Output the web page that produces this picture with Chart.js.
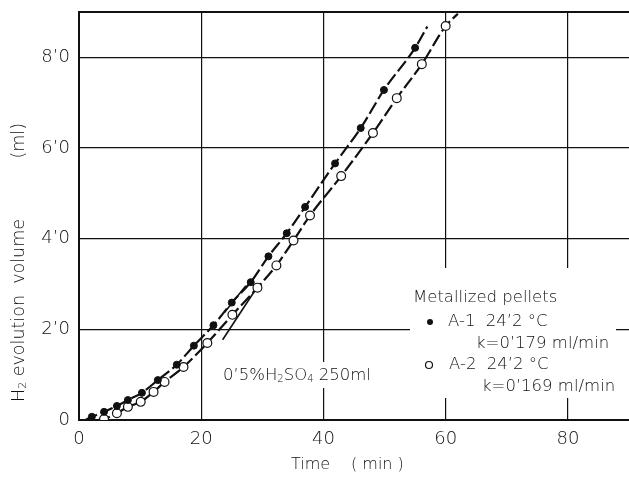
<!DOCTYPE html>
<html>
<head>
<meta charset="utf-8">
<script src="https://cdn.jsdelivr.net/npm/chart.js@4.4.1/dist/chart.umd.min.js"></script>
<style>
  html, body { margin: 0; padding: 0; background: #fff; }
  #wrap { width: 629px; height: 477px; }
</style>
</head>
<body>
<div id="wrap"><canvas id="chart" width="629" height="477"></canvas></div>
<script>
// A-1 (filled dots) and A-2 (open circles)
const a1Time = [2.1, 4.1, 6.2, 8.0, 10.3, 12.9, 16.0, 18.8, 22.0, 25.0, 28.1, 31.0, 34.0, 37.0, 41.9, 46.1, 49.9, 55.0];
const a1Vol  = [0.7, 1.8, 3.1, 4.4, 6.0, 8.8, 12.2, 16.4, 20.9, 25.9, 30.4, 36.1, 41.2, 47.0, 56.6, 64.4, 72.8, 82.1];
const a2Time = [4.1, 6.2, 8.0, 10.1, 12.2, 14.0, 17.1, 21.0, 25.1, 29.2, 32.3, 35.1, 37.8, 42.9, 48.1, 52.0, 56.1, 60.0];
const a2Vol  = [0.2, 1.5, 2.9, 4.0, 6.2, 8.4, 11.7, 17.0, 23.2, 29.2, 34.1, 39.6, 45.1, 53.8, 63.3, 71.0, 78.5, 86.9];

// where the dashed curves start and stop
const a1CurveStart = [1.0, 0.0], a1CurveEnd = [57.0, 86.8];
const a2CurveStart = [3.0, 0.0], a2CurveEnd = [62.0, 89.6];

// short straight (linear part) lines
const tan1Time = [23.8, 27.3], tan1Vol = [23.7, 29.6];
const tan2Time = [23.5, 28.9], tan2Vol = [17.7, 28.8];

const xTicks = [0, 20, 40, 60, 80];
const xTickLabels = ['0', '20', '40', '60', '80'];
const yTicks = [0, 20, 40, 60, 80];
const yTickLabels = ['0', '2\u20190', '4\u20190', '6\u20190', '8\u20190'];

const FONT = '"DejaVu Sans", sans-serif';
const INK = '#111';

function pts(xs, ys) {
  return xs.map((x, i) => ({x: x, y: ys[i]}));
}
function curve(start, xs, ys, end) {
  return [{x: start[0], y: start[1]}].concat(pts(xs, ys), [{x: end[0], y: end[1]}]);
}

// text with small lowered digits, parts = [[text, sub?], ...]
function drawParts(ctx, parts, x, y, size) {
  parts.forEach(p => {
    if (p[1]) {
      ctx.font = `300 ${Math.round(size * 0.6)}px ${FONT}`;
      ctx.fillText(p[0], x, y + size * 0.22);
    } else {
      ctx.font = `300 ${size}px ${FONT}`;
      ctx.fillText(p[0], x, y);
    }
    x += ctx.measureText(p[0]).width;
  });
  return x;
}

function noPadding(scale) {
  scale.paddingLeft = 0;
  scale.paddingRight = 0;
  scale.paddingTop = 0;
  scale.paddingBottom = 0;
}

const decor = {
  id: 'decor',
  beforeDatasetsDraw(chart) {
    const ctx = chart.ctx;
    ctx.save();
    ctx.fillStyle = '#fff';
    ctx.fillRect(410, 268, 206, 130);   // legend box
    ctx.fillRect(219, 362, 146, 26);    // acid note box
    ctx.restore();
  },
  afterDraw(chart) {
    const ctx = chart.ctx;
    const area = chart.chartArea;
    ctx.save();
    // top frame line
    ctx.strokeStyle = INK;
    ctx.lineWidth = 2;
    ctx.beginPath();
    ctx.moveTo(area.left - 1, area.top);
    ctx.lineTo(area.right, area.top);
    ctx.stroke();

    ctx.fillStyle = INK;
    ctx.textBaseline = 'middle';
    ctx.textAlign = 'left';

    // legend
    ctx.font = `300 16.5px ${FONT}`;
    ctx.fillText('Metallized pellets', 413, 298);
    ctx.fillText('A-1  24\u20192 \u00b0C', 448, 322);
    ctx.fillText('k=0\u2019179 ml/min', 476, 344);
    ctx.fillText('A-2  24\u20192 \u00b0C', 449, 365);
    ctx.fillText('k=0\u2019169 ml/min', 482, 387);
    ctx.beginPath();
    ctx.arc(430, 322, 3, 0, Math.PI * 2);
    ctx.fill();
    ctx.lineWidth = 1.2;
    ctx.beginPath();
    ctx.arc(429, 365, 3.5, 0, Math.PI * 2);
    ctx.stroke();

    // acid note
    drawParts(ctx, [['0\u20195%H'], ['2', true], ['SO'], ['4', true], [' 250ml']], 223, 376, 16.5);

    // x title
    ctx.font = `300 16px ${FONT}`;
    ctx.fillText('Time', 291, 465);
    ctx.fillText('( min )', 351, 465);

    // y title, rotated
    ctx.translate(19, 402);
    ctx.rotate(-Math.PI / 2);
    drawParts(ctx, [['H'], ['2', true], [' evolution  volume']], 0, 0, 17.5);
    ctx.font = `300 17.5px ${FONT}`;
    ctx.textAlign = 'right';
    ctx.fillText('(ml)', 279, 0);
    ctx.restore();
  }
};

const ctx = document.getElementById('chart').getContext('2d');
new Chart(ctx, {
  type: 'scatter',
  data: {
    datasets: [
      {
        label: 'A-1',
        data: pts(a1Time, a1Vol),
        showLine: false,
        pointRadius: 3.5,
        pointBackgroundColor: INK,
        pointBorderColor: INK,
        pointBorderWidth: 1
      },
      {
        label: 'A-2',
        data: pts(a2Time, a2Vol),
        showLine: false,
        pointRadius: 4.4,
        pointBackgroundColor: '#fff',
        pointBorderColor: INK,
        pointBorderWidth: 1.2
      },
      {
        label: 'A-1 curve',
        data: curve(a1CurveStart, a1Time, a1Vol, a1CurveEnd),
        showLine: true,
        pointRadius: 0,
        borderColor: INK,
        borderWidth: 2.2,
        borderDash: [13, 4],
        cubicInterpolationMode: 'monotone'
      },
      {
        label: 'A-2 curve',
        data: curve(a2CurveStart, a2Time, a2Vol, a2CurveEnd),
        showLine: true,
        pointRadius: 0,
        borderColor: INK,
        borderWidth: 2.2,
        borderDash: [13, 4],
        cubicInterpolationMode: 'monotone'
      },
      {
        label: 'linear 1',
        data: pts(tan1Time, tan1Vol),
        showLine: true,
        pointRadius: 0,
        borderColor: INK,
        borderWidth: 1.6
      },
      {
        label: 'linear 2',
        data: pts(tan2Time, tan2Vol),
        showLine: true,
        pointRadius: 0,
        borderColor: INK,
        borderWidth: 1.6
      }
    ]
  },
  options: {
    responsive: false,
    devicePixelRatio: 1,
    animation: false,
    layout: { autoPadding: false, padding: { top: 12, right: 0, left: 0, bottom: 0 } },
    plugins: {
      legend: { display: false },
      tooltip: { enabled: false }
    },
    scales: {
      x: {
        type: 'linear',
        min: 0,
        max: 90,
        afterFit(scale) {
          scale.height = 57;
          noPadding(scale);
        },
        afterBuildTicks(scale) { scale.ticks = xTicks.map(v => ({value: v})); },
        ticks: {
          padding: 9,
          color: INK,
          font: { family: FONT, size: 18, weight: 300 },
          callback: (v) => xTickLabels[xTicks.indexOf(v)]
        },
        grid: { color: INK, lineWidth: 1.2, drawTicks: false },
        border: { color: INK, width: 2 }
      },
      y: {
        type: 'linear',
        min: 0,
        max: 90,
        afterFit(scale) {
          scale.width = 79;
          noPadding(scale);
        },
        afterBuildTicks(scale) { scale.ticks = yTicks.map(v => ({value: v})); },
        ticks: {
          padding: 9,
          color: INK,
          font: { family: FONT, size: 18, weight: 300 },
          callback: (v) => yTickLabels[yTicks.indexOf(v)]
        },
        grid: { color: INK, lineWidth: 1.2, drawTicks: false },
        border: { color: INK, width: 2 }
      }
    }
  },
  plugins: [decor]
});
</script>
</body>
</html>
